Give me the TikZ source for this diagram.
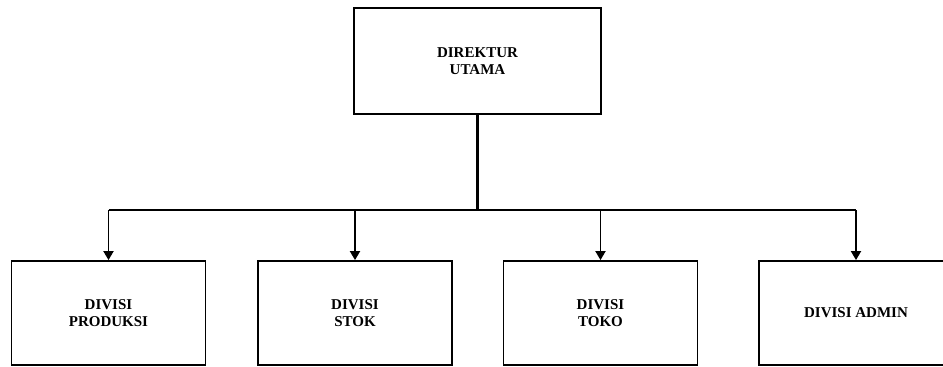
\documentclass[tikz,border=0pt]{standalone}
\usepackage{fontspec}
\setmainfont{Liberation Serif}
\usetikzlibrary{arrows.meta, positioning}

\begin{document}
\begin{tikzpicture}[x=1pt,y=-1pt,
        box/.style={draw=black, line width=1.8pt, minimum width=194pt, minimum height=104pt,
                    align=center, font=\fontsize{15}{17.5}\selectfont\bfseries, inner sep=0pt},
        link/.style={line width=2.2pt},
        tip/.style={line width=1.8pt, -{Triangle[length=9pt,width=10pt]}}]
        \useasboundingbox (0,0) rectangle (943,367);
        \node [box, minimum width=247pt, minimum height=106pt] (direktur) at (477.5,61) {DIREKTUR\\UTAMA};
        \node [box] (produksi) at (108.5,313) {DIVISI\\PRODUKSI};
        \node [box] (stok) at (355,313) {DIVISI\\STOK};
        \node [box] (toko) at (600.5,313) {DIVISI\\TOKO};
        \node [box] (admin) at (856,313) {DIVISI ADMIN};
        \coordinate (bar) at (477.5,210);
        % garis dari direktur ke semua divisi
        \draw [link] (direktur.south) -- (bar);
        \draw [link] (produksi.north |- bar) -- (admin.north |- bar);
        \draw [tip] (produksi.north |- bar) -- (produksi.north);
        \draw [tip] (stok.north |- bar) -- (stok.north);
        \draw [tip] (toko.north |- bar) -- (toko.north);
        \draw [tip] (admin.north |- bar) -- (admin.north);
\end{tikzpicture}
\end{document}
